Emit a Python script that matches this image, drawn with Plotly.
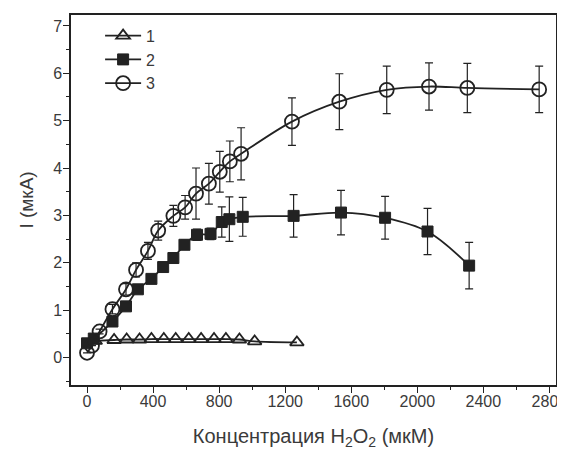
import plotly.graph_objects as go

# Series 1 (triangles)
x1 = [50, 164, 240, 318, 390, 465, 537, 616, 691, 769, 841, 923, 1015, 1271]
y1 = [0.35, 0.37, 0.38, 0.38, 0.39, 0.39, 0.39, 0.39, 0.39, 0.39, 0.39, 0.38, 0.34, 0.32]

# Series 2 (filled squares)
x2 = [0, 41, 154, 236, 308, 390, 461, 523, 590, 666, 748, 816, 862, 943, 1251, 1538, 1805, 2062, 2314]
y2 = [0.30, 0.40, 0.76, 1.08, 1.44, 1.66, 1.91, 2.10, 2.38, 2.59, 2.61, 2.86, 2.92, 2.97, 2.99, 3.06, 2.95, 2.66, 1.94]
e2 = [0, 0, 0, 0, 0.05, 0.05, 0.05, 0.1, 0.1, 0.12, 0.12, 0.32, 0.47, 0.41, 0.45, 0.47, 0.45, 0.49, 0.49]

# Series 3 (open circles)
x3 = [0, 30, 76, 154, 236, 297, 369, 431, 523, 594, 660, 738, 804, 865, 933, 1241, 1528, 1815, 2071, 2303, 2738]
y3 = [0.10, 0.25, 0.55, 1.02, 1.44, 1.85, 2.25, 2.68, 2.99, 3.17, 3.46, 3.67, 3.92, 4.14, 4.30, 4.98, 5.40, 5.65, 5.72, 5.69, 5.66]
e3 = [0, 0, 0.05, 0.1, 0.12, 0.15, 0.18, 0.2, 0.22, 0.25, 0.54, 0.43, 0.43, 0.43, 0.55, 0.50, 0.59, 0.50, 0.50, 0.52, 0.49]

names = ["1", "2", "3"]
x_ticks = [0, 400, 800, 1200, 1600, 2000, 2400, 2800]
y_ticks = [0, 1, 2, 3, 4, 5, 6, 7]

ink = "#222222"
text_col = "#3a3a3a"
font_fam = "Liberation Sans, Arial, sans-serif"

fig = go.Figure()

fig.add_trace(go.Scatter(
    x=x1, y=y1, name=names[0], mode="lines+markers",
    line=dict(color=ink, width=1.8, shape="spline"),
    marker=dict(symbol="triangle-up-open", size=12, color=ink, line=dict(width=1.8, color=ink)),
))
fig.add_trace(go.Scatter(
    x=x2, y=y2, name=names[1], mode="lines+markers",
    line=dict(color=ink, width=1.8, shape="spline"),
    marker=dict(symbol="square", size=11, color=ink, line=dict(width=1, color=ink)),
    error_y=dict(type="data", array=e2, color=ink, thickness=1.2, width=4),
))
fig.add_trace(go.Scatter(
    x=x3, y=y3, name=names[2], mode="lines+markers",
    line=dict(color=ink, width=1.8, shape="spline"),
    marker=dict(symbol="circle-open", size=14, color=ink, line=dict(width=1.8, color=ink)),
    error_y=dict(type="data", array=e3, color=ink, thickness=1.2, width=4),
))

# page body has an 8px default margin: size/margins compensate for it
fig.update_layout(
    width=565, height=442,
    margin=dict(l=63, r=17, t=7, b=65),
    paper_bgcolor="white", plot_bgcolor="white",
    font=dict(family=font_fam, color=text_col, size=15),
    showlegend=True,
    legend=dict(x=0.06, y=0.99, xanchor="left", yanchor="top",
                bgcolor="rgba(0,0,0,0)", font=dict(size=16, color=text_col),
                tracegroupgap=0, itemwidth=36),
    xaxis=dict(
        range=[-97, 2840], tickvals=x_ticks, ticktext=[str(v) for v in x_ticks],
        ticks="outside", ticklen=6, tickwidth=1.2, tickcolor=ink,
        minor=dict(dtick=200, ticks="outside", ticklen=3, tickcolor=ink, tickwidth=1),
        showline=True, linecolor=ink, linewidth=1.5, mirror=True,
        showgrid=False, zeroline=False, automargin=False,
        ticklabelstandoff=-5,
        tickfont=dict(size=16, color=text_col),
        title=dict(text="Концентрация H<sub>2</sub>O<sub>2</sub> (мкМ)",
                   font=dict(size=20, color=text_col), standoff=25),
    ),
    yaxis=dict(
        range=[-0.58, 7.23], tickvals=y_ticks, ticktext=[str(v) for v in y_ticks],
        ticks="outside", ticklen=6, tickwidth=1.2, tickcolor=ink,
        minor=dict(dtick=0.5, ticks="outside", ticklen=3, tickcolor=ink, tickwidth=1),
        showline=True, linecolor=ink, linewidth=1.5, mirror=True,
        showgrid=False, zeroline=False, automargin=False,
        ticklabelstandoff=-2,
        tickfont=dict(size=16, color=text_col),
        title=dict(text="I (мкА)", font=dict(size=19, color=text_col), standoff=14),
    ),
)

fig.write_html("out.html")
